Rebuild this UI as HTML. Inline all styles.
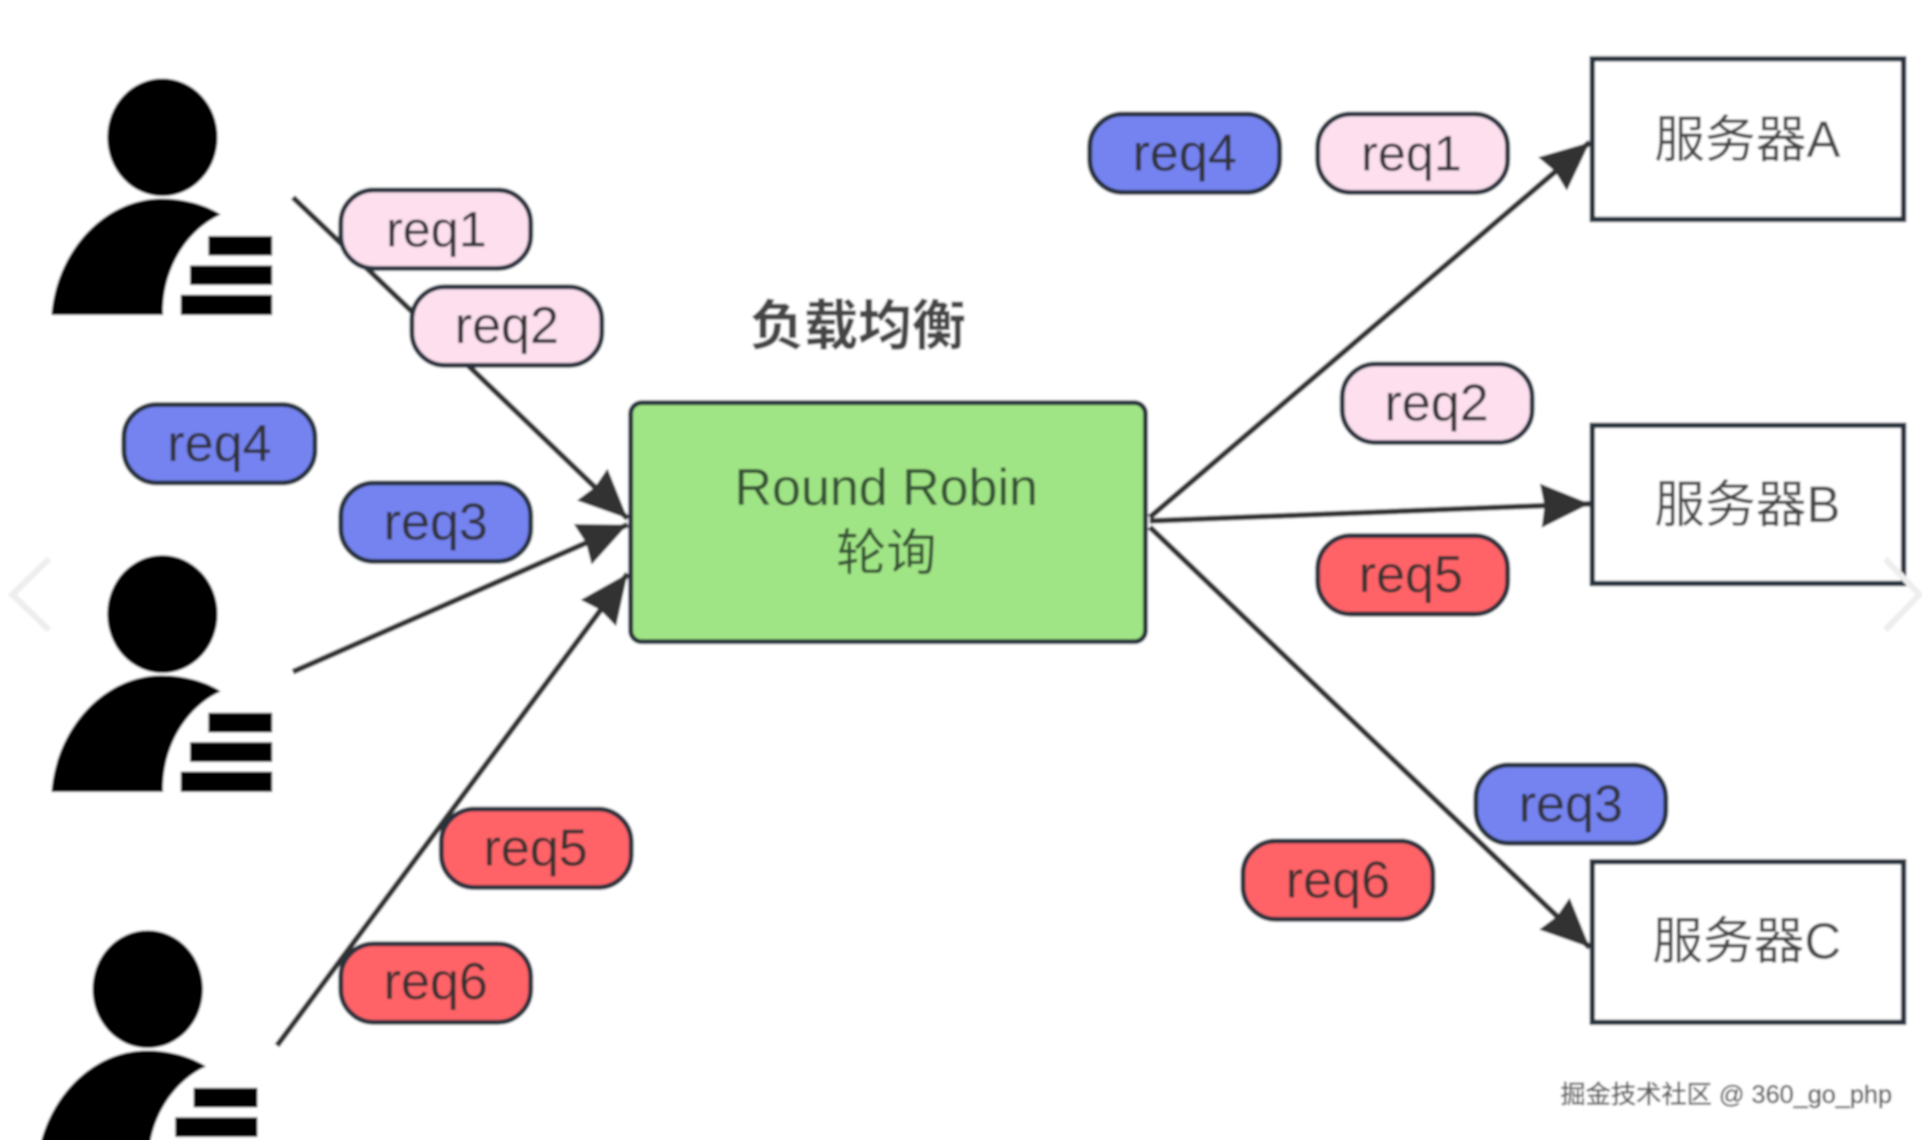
<!DOCTYPE html>
<html lang="zh">
<head>
<meta charset="utf-8">
<title>Round Robin 负载均衡</title>
<style>
html,body{margin:0;padding:0;background:#fff;width:1922px;height:1140px;overflow:hidden}
svg{display:block;width:1922px;height:1140px}
text{font-family:"Liberation Sans","Noto Sans CJK SC",sans-serif}
.pill{stroke:#27323c;stroke-width:4}
.t{font-size:42.5px;fill:#333;text-anchor:middle}
.o{font-size:41px}
.box{fill:#fff;stroke:#27323c;stroke-width:4.4}
.srv{font-size:41.4px;fill:#444;text-anchor:middle}
.ln{stroke:#333;stroke-width:4.6;fill:none}
</style>
</head>
<body>
<svg xmlns="http://www.w3.org/2000/svg" viewBox="0 0 1568 930">
<defs>
<marker id="a" markerUnits="userSpaceOnUse" markerWidth="40" markerHeight="38" viewBox="0 0 40 38" refX="40" refY="19" orient="auto">
<path d="M0,1 L40,19 L0,37 L3,19 Z" fill="#333"/>
</marker>
<filter id="b" x="-2%" y="-2%" width="104%" height="104%"><feGaussianBlur stdDeviation="0.85"/></filter>
<g id="p">
<ellipse cx="132.500" cy="112" rx="45" ry="48"/>
<path d="M42,257 C46,205 85,162 132,162 C150,162 168,167 180,175 C152,188 132,220 133,257 Z"/>
<rect x="170" y="192.500" width="52" height="16"/>
<rect x="155" y="216.500" width="67" height="16"/>
<rect x="147.500" y="240.500" width="74.500" height="16.500"/>
</g>
</defs>
<g filter="url(#b)">
<rect width="1568" height="930" fill="#fff"/>

<use href="#p"/>
<use href="#p" y="389"/>
<use href="#p" x="-12" y="695"/>

<line class="ln" x1="239" y1="161" x2="512" y2="423" marker-end="url(#a)"/>
<line class="ln" x1="239" y1="548" x2="512" y2="428" marker-end="url(#a)"/>
<line class="ln" x1="226" y1="853" x2="512" y2="468" marker-end="url(#a)"/>
<line class="ln" x1="938" y1="422" x2="1297" y2="116" marker-end="url(#a)"/>
<line class="ln" x1="938" y1="425" x2="1297" y2="411" marker-end="url(#a)"/>
<line class="ln" x1="938" y1="430" x2="1297" y2="773" marker-end="url(#a)"/>

<rect class="pill" x="278" y="155" width="155" height="64" rx="27" fill="#fddfee"/>
<text class="t o" x="356" y="201">req1</text>
<rect class="pill" x="336" y="234" width="155" height="64" rx="27" fill="#fddfee"/>
<text class="t" x="413.500" y="280">req2</text>
<rect class="pill" x="101" y="330" width="156" height="64" rx="27" fill="#7583f0"/>
<text class="t" x="179" y="376">req4</text>
<rect class="pill" x="278" y="394" width="155" height="64" rx="27" fill="#7583f0"/>
<text class="t" x="355.500" y="440">req3</text>
<rect class="pill" x="360" y="660" width="155" height="64" rx="27" fill="#ff6468"/>
<text class="t" x="437" y="706">req5</text>
<rect class="pill" x="278" y="770" width="155" height="64" rx="27" fill="#ff6468"/>
<text class="t" x="355.500" y="815">req6</text>

<rect class="pill" x="889" y="93" width="155" height="64" rx="27" fill="#7583f0"/>
<text class="t" x="966.500" y="139">req4</text>
<rect class="pill" x="1075" y="93" width="155" height="64" rx="27" fill="#fddfee"/>
<text class="t o" x="1151.500" y="139">req1</text>
<rect class="pill" x="1095" y="297" width="155" height="64" rx="27" fill="#fddfee"/>
<text class="t" x="1172" y="343">req2</text>
<rect class="pill" x="1075" y="437" width="155" height="64" rx="27" fill="#ff6468"/>
<text class="t" x="1151" y="483">req5</text>
<rect class="pill" x="1204" y="624" width="155" height="64" rx="27" fill="#7583f0"/>
<text class="t" x="1281.500" y="670">req3</text>
<rect class="pill" x="1014" y="686" width="155" height="64" rx="27" fill="#ff6468"/>
<text class="t" x="1091.500" y="732">req6</text>

<text x="700" y="281" font-size="44" font-weight="700" fill="#444" text-anchor="middle">负载均衡</text>

<rect x="514.500" y="328.500" width="420" height="195" rx="9" fill="#a0e585" stroke="#27323c" stroke-width="4"/>
<text x="723" y="412" font-size="42.400" fill="#355035" text-anchor="middle">Round Robin</text>
<text x="723" y="465" font-size="41" fill="#355035" text-anchor="middle">轮询</text>

<rect class="box" x="1299" y="48" width="254" height="131"/>
<text class="srv" x="1425.500" y="128">服务器A</text>
<rect class="box" x="1299" y="347" width="254" height="129"/>
<text class="srv" x="1425.500" y="426">服务器B</text>
<rect class="box" x="1299" y="703" width="254" height="131"/>
<text class="srv" x="1425" y="782">服务器C</text>

<path d="M40,456 L10,485 L40,514" fill="none" stroke="#eee" stroke-width="5"/>
<path d="M1538,456 L1566,485 L1538,514" fill="none" stroke="#eee" stroke-width="5"/>

<text x="1273" y="900" font-size="20.600" fill="#555" stroke="#777" stroke-width="0.4">掘金技术社区 @ 360_go_php</text>
</g>
</svg>
</body>
</html>
